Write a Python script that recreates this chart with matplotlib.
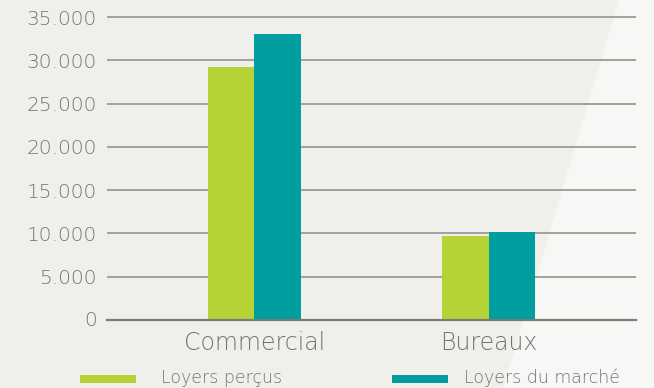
import numpy as np
import matplotlib.pyplot as plt
from matplotlib.patches import Rectangle, Polygon

# data
categories = ['Commercial', 'Bureaux']
series_names = ['Loyers perçus', 'Loyers du marché']
loyers_percus = [29200, 9700]
loyers_marche = [33000, 10150]
yticks = [0, 5000, 10000, 15000, 20000, 25000, 30000, 35000]
ytick_labels = ['0', '5.000', '10.000', '15.000', '20.000', '25.000', '30.000', '35.000']

green = '#b5d334'
teal = '#009e9e'
bg = '#f0efeb'
bg_light = '#f7f7f5'
txt = '#737371'

plt.rcParams['font.family'] = ['DejaVu Sans']
plt.rcParams['font.weight'] = 'light'

fig = plt.figure(figsize=(6.54, 3.88), dpi=100)
fig.patch.set_facecolor(bg)

# lighter diagonal panel on the right
fig.patches.append(Polygon([[619 / 654, 1], [1, 1], [1, 0], [503 / 654, 0]],
                           closed=True, transform=fig.transFigure,
                           facecolor=bg_light, edgecolor='none', zorder=-5))

ax = fig.add_axes([107 / 654, 68 / 388, 529 / 654, 0.7853])
ax.set_facecolor('none')
ax.set_zorder(2)

x = np.arange(len(categories))
w = 0.2
ax.bar(x - w / 2, loyers_percus, w, color=green, zorder=3)
ax.bar(x + w / 2, loyers_marche, w, color=teal, zorder=3)

ax.set_xlim(-0.63, 1.63)
ax.set_ylim(0, 35200)
ax.set_yticks(yticks[1:])
ax.set_yticklabels(ytick_labels[1:], fontweight='light')
ax.yaxis.grid(True, color='#a0a09c', linewidth=1.4, zorder=1)
ax.set_axisbelow(True)

for s in ['top', 'right', 'left']:
    ax.spines[s].set_visible(False)
ax.spines['bottom'].set_color('#7b7b78')
ax.spines['bottom'].set_linewidth(1.6)
ax.spines['bottom'].set_zorder(4)

ax.tick_params(axis='y', length=0, pad=7.5, labelsize=14.5, labelcolor=txt)
ax.tick_params(axis='x', length=0, pad=8, labelsize=17, labelcolor=txt)
ax.set_xticks(x)
ax.set_xticklabels(categories, fontweight='light')

# zero label sits on the axis line
ax.text(-10 / 529, 0, ytick_labels[0], transform=ax.transAxes, ha='right', va='center',
        fontsize=14.5, fontweight='light', color=txt)

# legend drawn by hand at the bottom
legend_items = [(80, 161, green, series_names[0]), (392, 464, teal, series_names[1])]
for px, tx, col, name in legend_items:
    fig.patches.append(Rectangle((px / 654, 5 / 388), 56 / 654, 8 / 388,
                                 transform=fig.transFigure, facecolor=col, edgecolor='none'))
    fig.text(tx / 654, 10 / 388, name, ha='left', va='center', fontsize=12.5,
             fontweight='light', color=txt)

plt.savefig('out.png', dpi=100, facecolor=fig.get_facecolor())
